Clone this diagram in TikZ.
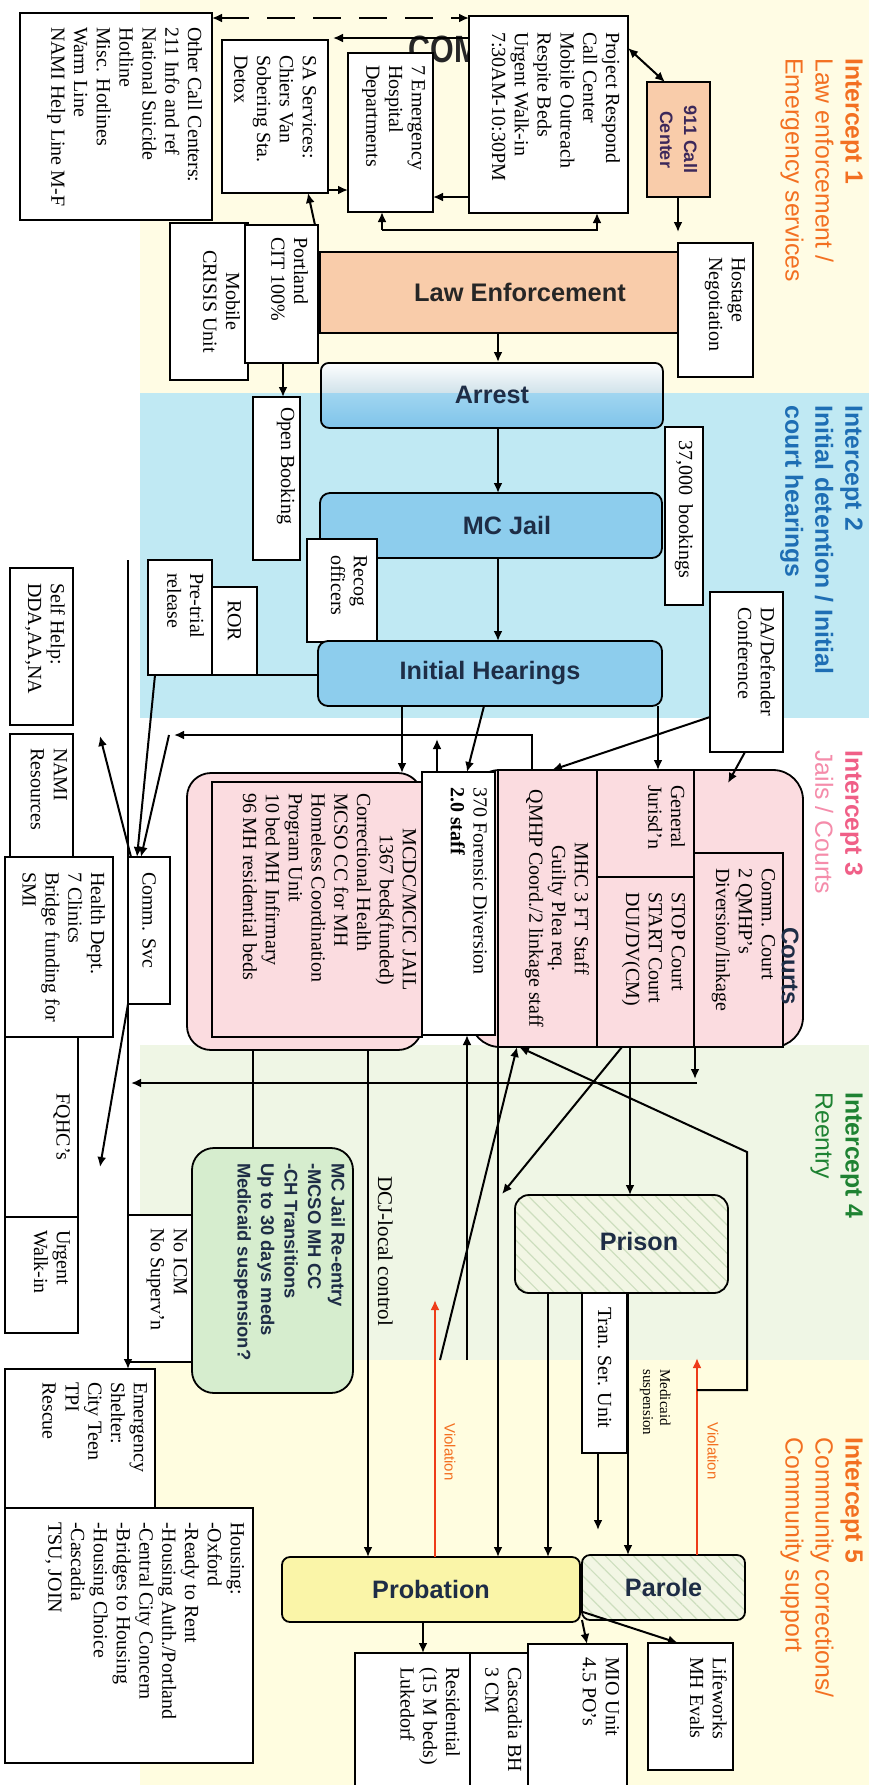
\documentclass[tikz,border=0pt]{standalone}
\usepackage{fontspec}
\setmainfont{Liberation Serif}
\setsansfont{Liberation Sans}
\usepackage{graphicx}
\usetikzlibrary{arrows.meta,patterns.meta,calc}
\definecolor{bandA}{RGB}{255,252,228}
\definecolor{bandB}{RGB}{192,233,243}
\definecolor{bandD}{RGB}{239,246,229}
\definecolor{bandE}{RGB}{255,253,224}
\definecolor{peach}{RGB}{249,204,170}
\definecolor{jailblue}{RGB}{141,205,237}
\definecolor{pinkfill}{RGB}{251,220,224}
\definecolor{greenfill}{RGB}{214,237,206}
\definecolor{probfill}{RGB}{250,245,168}
\definecolor{hatchbase}{RGB}{242,246,228}
\definecolor{hatchline}{RGB}{205,222,190}
\definecolor{orangeI}{RGB}{243,112,33}
\definecolor{blueI}{RGB}{30,110,180}
\definecolor{pinkI}{RGB}{240,95,135}
\definecolor{pinkII}{RGB}{245,140,170}
\definecolor{greenI}{RGB}{30,130,50}
\definecolor{navy}{RGB}{30,45,70}
\definecolor{purpleT}{RGB}{60,40,90}
\definecolor{violred}{RGB}{238,60,25}
\definecolor{arrestA}{RGB}{208,226,234}
\definecolor{arrestB}{RGB}{160,213,240}
\definecolor{arrestC}{RGB}{128,196,234}
% rotated text boxes: #1 page height (px), #2 page width (px)
\newcommand{\rbox}[5]{\rotatebox{-90}{\parbox[c][\dimexpr#2pt/2\relax][t]{\dimexpr#1pt/2\relax}{\vspace*{#3pt}\raggedright\leftskip=#4pt\relax #5\par}}}
\newcommand{\rmbox}[4]{\rotatebox{-90}{\parbox[c][\dimexpr#2pt/2\relax][c]{\dimexpr#1pt/2\relax}{\raggedright\leftskip=#3pt\relax #4\par}}}
\newcommand{\ctbox}[4]{\rotatebox{-90}{\parbox[c][\dimexpr#2pt/2\relax][t]{\dimexpr#1pt/2\relax}{\vspace*{#3pt}\centering #4\par}}}
\tikzset{
 bx/.style={draw=black, line width=0.9pt, fill=white, inner sep=0pt, outer sep=0pt, anchor=north west, font=\fontsize{10}{11.4}\selectfont},
 sz/.style 2 args={minimum width=#1*0.5pt, minimum height=#2*0.5pt},
 arr/.style={line width=1pt, -{Latex[length=5pt,width=4.5pt]}},
 darr/.style={line width=1pt, {Latex[length=5pt,width=4.5pt]}-{Latex[length=5pt,width=4.5pt]}},
 plain/.style={line width=1pt},
 big/.style={font=\sffamily\bfseries\fontsize{12.6}{14}\selectfont, text=navy},
 rlab/.style={rotate=-90, anchor=north west, inner sep=0pt, align=left},
 ilab/.style={rlab, font=\sffamily\fontsize{12.4}{15}\selectfont},
 hatch/.style={preaction={fill=hatchbase}, pattern={Lines[angle=-45,distance=5pt,line width=0.6pt]}, pattern color=hatchline},
}
\begin{document}
\begin{tikzpicture}[x=0.5pt,y=-0.5pt]
\fill[white] (0,0) rectangle (869,1785);
\useasboundingbox (0,0) rectangle (869,1785);
% bands
\fill[bandA] (140,0) rectangle (869,393);
\fill[bandB] (140,393) rectangle (869,718);
\fill[bandD] (140,1045) rectangle (869,1360);
\fill[bandE] (140,1360) rectangle (869,1785);
% intercept labels
\node[ilab, text=orangeI] (i1) at (863,58) {\textbf{Intercept 1}\\Law enforcement /\\Emergency services};
\node[ilab, text=blueI] (i2) at (863,405) {\textbf{Intercept 2}\\\textbf{Initial detention / Initial}\\\textbf{court hearings}};
\node[ilab, text=pinkI] (i3) at (863,750) {\textbf{Intercept 3}\\\textcolor{pinkII}{Jails / Courts}};
\node[ilab, text=greenI] (i4) at (863,1092) {\textbf{Intercept 4}\\Reentry};
\node[ilab, text=orangeI] (i5) at (863,1437) {\textbf{Intercept 5}\\Community corrections/\\Community support};
% partly hidden title
\node[inner sep=0pt, anchor=north west, font=\sffamily\bfseries\fontsize{19}{20}\selectfont, text=black!85] (com) at (408,36) {\scalebox{0.8}[1]{COM}};
% Intercept 1 boxes
\node[bx] (occ) at (20,13) {\rbox{207}{192}{5}{7}{Other Call Centers:\\211 Info and ref\\National Suicide\\Hotline\\Misc. Hotlines\\Warm Line\\NAMI Help Line M-F}};
\node[bx] (sa) at (222,40) {\rbox{153}{106}{6}{7.5}{SA Services:\\Chiers Van\\Sobering Sta.\\Detox}};
\node[bx] (ed) at (348,53) {\rbox{159}{85}{4}{6}{7 Emergency\\Hospital\\Departments}};
\node[bx] (pr) at (469,16) {\rbox{197}{159}{4}{8}{Project Respond\\Call Center\\Mobile Outreach\\Respite Beds\\Urgent Walk-in\\7:30AM-10:30PM}};
\node[bx, fill=peach] (c911) at (647,82) {\rotatebox{-90}{\parbox[c][31.5pt][c]{57.5pt}{\centering\sffamily\bfseries\fontsize{9}{12}\selectfont\color{purpleT}911 Call\\Center\par}}};
\node[bx, fill=peach, sz={400}{81}, font=\sffamily\bfseries\fontsize{12.7}{14}\selectfont, text=black!85] (le) at (320,252) {Law Enforcement};
\node[bx] (hn) at (678,243) {\rbox{134}{75}{4}{7}{Hostage\\Negotiation}};
\node[bx] (mcu) at (170,223) {\ctbox{157}{78}{4}{Mobile\\CRISIS Unit}};
\node[bx] (pcit) at (245,225) {\rbox{138}{73}{5}{6}{Portland\\CIT 100\%}};
% Arrest (two-tone)
\begin{scope}
\clip[rounded corners=4pt] (320,362) rectangle (662,427);
\shade[top color=white, bottom color=arrestA] (320,362) rectangle (662,393);
\shade[top color=arrestB, bottom color=arrestC] (320,393) rectangle (662,427);
\end{scope}
\node[draw, line width=0.9pt, rounded corners=4pt, sz={342}{65}, anchor=north west, inner sep=0pt, big] (arrest) at (320,362) {Arrest};
% Intercept 2 boxes
\node[bx] (ob) at (253,397) {\rbox{163}{47}{2.5}{5}{Open Booking}};
\node[bx] (b37) at (665,427) {\rmbox{178}{38}{6.5}{37,000~~bookings}};
\node[bx, fill=jailblue, rounded corners=5pt, sz={342}{65}] (mcjail) at (320,493) {};
\node[big] (mcjailt) at (507,525) {MC Jail};
\node[bx] (recog) at (307,539) {\rbox{103}{70}{5}{8}{Recog\\officers}};
\node[bx, fill=jailblue, rounded corners=5pt, sz={344}{65}, big] (ih) at (318,641) {Initial Hearings};
\node[bx] (ror) at (212,587) {\rmbox{88}{45}{6.5}{ROR}};
\node[bx] (pt) at (148,560) {\rbox{115}{64}{4}{6.5}{Pre-trial\\release}};
\node[bx] (da) at (710,592) {\rbox{160}{73}{4}{7.5}{DA/Defender\\Conference}};
% left community column
\node[bx] (sh) at (10,568) {\rbox{157}{63}{4}{7.5}{Self Help:\\DDA,AA,NA}};
\node[bx] (nami) at (10,734) {\rbox{123}{63}{3}{7}{NAMI\\Resources}};
\node[bx] (cs) at (128,857) {\rmbox{147}{42}{7.5}{Comm. Svc}};
\node[bx] (hd) at (5,857) {\rbox{180}{108}{4}{7.5}{Health Dept.\\7 Clinics\\Bridge funding for\\SMI}};
\node[bx] (fq) at (5,1037) {\ctbox{180}{73}{4}{FQHC's}};
\node[bx] (uw) at (5,1217) {\rbox{116}{73}{4}{6.5}{Urgent\\Walk-in}};
% jail
\node[bx, fill=pinkfill, rounded corners=12pt, sz={235}{277}] (mcdcbg) at (187,773) {};
\node[bx, fill=pinkfill] (mcdc) at (212,782) {\rotatebox{-90}{\parbox[c][105pt][t]{127.5pt}{\vspace*{3pt}{\centering MCDC/MCIC JAIL\\1367 beds(funded)\par}\raggedright\leftskip=5.5pt\relax Correctional Health\\MCSO CC for MH\\Homeless Coordination\\Program Unit\\10 bed MH Infirmary\\96 MH residential beds\par}}};
% courts
\node[bx, fill=pinkfill, rounded corners=15pt, sz={333}{277}] (courts) at (470,770) {};
\node[bx] (fd) at (422,772) {\rbox{263}{73}{4}{7.5}{370 Forensic Diversion\\\textbf{2.0 staff}}};
\node[bx, fill=pinkfill] (mhc) at (498,770) {\ctbox{277}{99}{4}{MHC 3 FT Staff\\Guilty Plea req.\\QMHP Coord./2 linkage staff}};
\node[bx, fill=pinkfill] (gen) at (597,770) {\rbox{107}{97}{4.5}{7.5}{General\\Jurisd'n}};
\node[bx, fill=pinkfill] (stop) at (597,877) {\rbox{170}{97}{4.5}{7.5}{STOP Court\\START Court\\DUI/DV(CM)}};
\node[bx, fill=pinkfill] (comm) at (694,853) {\rbox{194}{89}{4}{7.5}{Comm. Court\\2 QMHP's\\Diversion/linkage}};
\node[rlab, font=\sffamily\bfseries\fontsize{12}{14}\selectfont, text=navy] (courtst) at (799,927) {Courts};
% reentry
\node[bx] (noicm) at (128,1215) {\rbox{147}{67}{4}{6.5}{No ICM\\No Superv'n}};
\node[bx, fill=greenfill, rounded corners=11pt] (green) at (192,1148) {\rbox{245}{161}{4}{7.5}{\sffamily\bfseries\fontsize{9.2}{11.75}\selectfont\color{navy}MC Jail Re-entry\\-MCSO MH CC\\-CH Transitions\\Up to 30 days meds\\Medicaid suspension?}};
\node[bx, rounded corners=7pt, sz={213}{98}, hatch] (prison) at (515,1195) {};
\node[big] (prisont) at (639,1241) {Prison};
\node[bx] (tsu) at (582,1293) {\rmbox{160}{45}{7}{Tran. Ser. Unit}};
% community
\node[bx] (es) at (5,1369) {\rbox{139}{150}{4}{6.5}{Emergency\\Shelter:\\City Teen\\TPI\\Rescue}};
\node[bx] (hous) at (5,1508) {\rbox{255}{248}{4.5}{7}{Housing:\\-Oxford\\-Ready to Rent\\-Housing Auth./Portland\\-Central City Concern\\-Bridges to Housing\\-Housing Choice\\-Cascadia\\TSU, JOIN}};
\node[bx, fill=probfill, rounded corners=4pt, sz={298}{65}, big] (prob) at (282,1557) {Probation};
\node[bx, rounded corners=4pt, sz={163}{65}, big, hatch] (parole) at (582,1555) {Parole};
\node[bx] (res) at (355,1653) {\rbox{147}{115}{5}{7}{Residential\\(15 M beds)\\Lukedorf}};
\node[bx] (cas) at (470,1653) {\rbox{147}{60}{4}{7}{Cascadia BH\\3 CM}};
\node[bx] (mio) at (528,1644) {\rbox{156}{99}{4}{6.5}{MIO Unit\\4.5 PO's}};
\node[bx] (lw) at (648,1643) {\rbox{127}{85}{3}{7}{Lifeworks\\MH Evals}};
% ---------------- connectors ----------------
\draw[darr, dash pattern=on 14pt off 9pt] (occ.east |- 0,18) -- (pr.west |- 0,18);
\draw[arr] (pr.west |- 0,38) -- ($(sa.east |- 0,38)+(5,0)$);
\draw[arr] (sa.east |- 0,190) -- (ed.west |- 0,190);
\draw[arr] (pr.west |- 0,197) -- (ed.east |- 0,197);
\draw[darr] (pr.east |- 0,48) -- (665,0 |- c911.north);
\draw[arr] (678,0 |- c911.south) -- ($(678,0 |- le.north)+(0,-20)$);
\coordinate (brk) at (382,230);
\draw[arr] (brk) -- (382,0 |- ed.south);
\draw[arr] (brk) -- (597,230) -- (597,0 |- pr.south);
\draw[arr] (315,0 |- pcit.north) -- (308,0 |- sa.south);
\draw[arr] (283,0 |- pcit.south) -- (283,0 |- ob.north);
\draw[arr] (498,0 |- le.south) -- (498,0 |- arrest.north);
\draw[arr] (498,0 |- arrest.south) -- (498,0 |- mcjail.north);
\draw[arr] (498,0 |- mcjail.south) -- (498,0 |- ih.north);
\draw[plain] (ih.west |- 0,675) -- (ror.east |- 0,675);
\draw[arr] (402,0 |- ih.south) -- (402,0 |- mcdcbg.north);
\draw[arr] (484,0 |- ih.south) -- (467,0 |- fd.north);
\draw[arr] (658,0 |- ih.south) -- (658,0 |- gen.north);
\draw[arr] (da.west |- 0,717) -- (552,0 |- mhc.north);
\draw[arr] (745,0 |- da.south) -- ($(728,0 |- courts.north)+(0,13)$);
\draw[arr] (532,0 |- mhc.north) -- (532,735) -- (174,735);
\draw[arr] (169,735) -- (141,0 |- cs.north);
\draw[arr] (437,0 |- fd.north) -- (437,739);
\draw[arr] (155,0 |- pt.south) -- (137,0 |- cs.north);
\coordinate (csfree) at (100,736);
\draw[arr] (131,0 |- cs.north) -- (csfree);
\coordinate (bus) at (128,560);
\draw[arr] (bus) -- (128,0 |- es.north);
\draw[arr] (695,0 |- comm.south) -- (695,1079);
\draw[arr] (697,1083) -- (131,1083);
\coordinate (fqfree) at (100,1167);
\draw[arr] (cs.south west) -- (fqfree);
\draw[plain] (253,0 |- mcdcbg.south) -- (253,0 |- green.north);
\draw[arr] (368,0 |- mcdcbg.south) -- (368,0 |- prob.north);
\node[rlab, font=\fontsize{10.5}{12}\selectfont] (dcj) at (393,1176) {DCJ-local control};
\draw[arr] (498,0 |- mhc.south) -- (498,0 |- prob.north);
\draw[arr] (630,0 |- stop.south) -- (630,0 |- prison.north);
\draw[arr] (622,0 |- stop.south) -- (502,1194);
\draw[arr] (548,0 |- prison.south) -- (548,0 |- prob.north);
\draw[arr] (628,0 |- prison.south) -- (628,0 |- parole.north);
\node[rlab, font=\fontsize{7.5}{8.5}\selectfont] (medsus) at (671,1369) {Medicaid\\suspension};
\draw[arr] (598,0 |- tsu.south) -- (598,1530);
\draw[arr, violred] (435,0 |- prob.north) -- (435,1300);
\node[rlab, font=\sffamily\fontsize{7.5}{9}\selectfont, text=orangeI] (viol1) at (456,1423) {Violation};
\draw[arr] (440,1360) -- (517,0 |- mhc.south);
\draw[arr] (467,1360) -- (467,0 |- fd.south);
\draw[arr, violred] (697,0 |- parole.north) -- (697,1358);
\node[rlab, font=\sffamily\fontsize{7.5}{9}\selectfont, text=orangeI] (viol2) at (719,1422) {Violation};
\draw[arr] (697,1390) -- (747,1390) -- (747,1152) -- (519,0 |- mhc.south);
\draw[arr] (423,0 |- prob.south) -- (423,0 |- res.north);
\draw[arr] (582,1620) -- (587,0 |- mio.north);
\draw[arr] (583,1612) -- (678,0 |- lw.north);
\end{tikzpicture}
\end{document}
